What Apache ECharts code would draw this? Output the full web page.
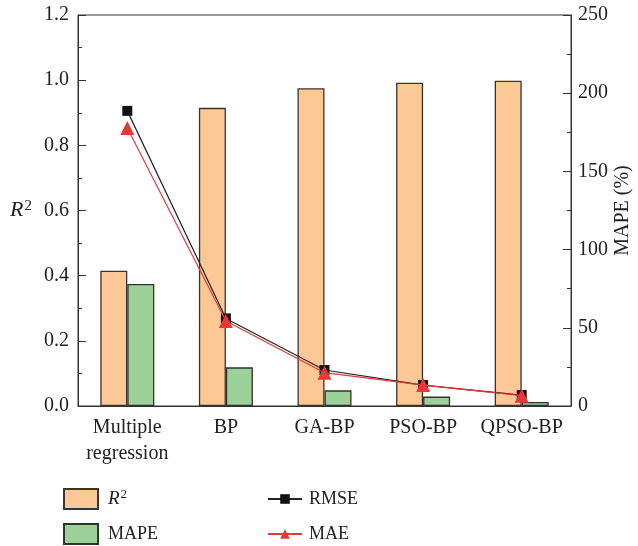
<!DOCTYPE html>
<html>
<head>
<meta charset="utf-8">
<script src="https://cdn.jsdelivr.net/npm/echarts@6/dist/echarts.min.js"></script>
<style>
  html, body { margin: 0; padding: 0; background: #fff; }
  #main { width: 638px; height: 546px; }
</style>
</head>
<body>
<div id="main"></div>
<script>
const categories = ['Multiple\nregression', 'BP', 'GA-BP', 'PSO-BP', 'QPSO-BP'];
const r2Values = [0.415, 0.915, 0.975, 0.992, 0.998];
const mapeValues = [78, 24.7, 10, 6, 2.6];
const rmseValues = [188.7, 56, 23, 13.4, 7];
const maeValues = [177.7, 54.3, 21.3, 13.4, 6.6];
const leftTicks = [0, 1.2, 0.2];
const rightTicks = [0, 250, 50];

const font = 'Liberation Serif';
const axisColor = '#333';

const chart = echarts.init(document.getElementById('main'), null, { renderer: 'canvas' });

function legendText(pad) {
  return {
    fontFamily: font,
    fontSize: 18,
    color: '#222',
    padding: [0, 0, 0, pad],
    rich: {
      i: { fontFamily: font, fontSize: 19, fontStyle: 'italic', color: '#222' },
      s: { fontFamily: font, fontSize: 13, color: '#222', verticalAlign: 'top', padding: [0, 0, 8, 1] }
    }
  };
}

function makeLegend(name, left, top, isBar) {
  return {
    left: left,
    top: top,
    itemWidth: 34,
    itemHeight: isBar ? 20 : 12,
    itemGap: 10,
    data: [isBar ? { name: name, icon: 'rect' } : name],
    formatter: function (n) { return n === 'R2' ? '{i|R}{s|2}' : n; },
    textStyle: legendText(isBar ? 5 : 2)
  };
}

const option = {
  backgroundColor: '#fff',
  textStyle: { fontFamily: font },
  animation: false,
  grid: {
    left: 78,
    right: 67,
    top: 15,
    bottom: 140,
    outerBoundsMode: 'none',
    show: true,
    borderColor: axisColor,
    borderWidth: 1
  },
  legend: [
    makeLegend('R2', 58, 483, true),
    makeLegend('MAPE', 58, 518, true),
    makeLegend('RMSE', 262, 485, false),
    makeLegend('MAE', 262, 520, false)
  ],
  xAxis: {
    type: 'category',
    data: categories,
    axisLine: { lineStyle: { color: axisColor } },
    axisTick: { show: false },
    axisLabel: {
      interval: 0,
      hideOverlap: false,
      fontFamily: font,
      fontSize: 20,
      color: '#222',
      margin: 9,
      lineHeight: 26
    }
  },
  yAxis: [{
    type: 'value',
    min: leftTicks[0],
    max: leftTicks[1],
    interval: leftTicks[2],
    name: '{i|R}{s|2}',
    nameLocation: 'middle',
    nameRotate: 0,
    nameGap: 46,
    nameMoveOverlap: false,
    nameTextStyle: {
      rich: {
        i: { fontFamily: font, fontSize: 22, fontStyle: 'italic', color: '#222' },
        s: { fontFamily: font, fontSize: 15, color: '#222', verticalAlign: 'top', padding: [0, 0, 9, 1] }
      }
    },
    axisLine: { show: true, lineStyle: { color: axisColor } },
    axisTick: { show: true, inside: true, length: 8, lineStyle: { color: axisColor } },
    minorTick: { show: true, splitNumber: 2, length: 4, lineStyle: { color: axisColor } },
    splitLine: { show: false },
    axisLabel: {
      fontFamily: font,
      fontSize: 20,
      color: '#222',
      margin: 9,
      formatter: function (v) { return v.toFixed(1); }
    }
  }, {
    type: 'value',
    position: 'right',
    min: rightTicks[0],
    max: rightTicks[1],
    interval: rightTicks[2],
    name: 'MAPE (%)',
    nameLocation: 'middle',
    nameRotate: 90,
    nameGap: 42,
    nameMoveOverlap: false,
    nameTextStyle: { fontFamily: font, fontSize: 20, color: '#222' },
    axisLine: { show: true, lineStyle: { color: axisColor } },
    axisTick: { show: true, inside: true, length: 8, lineStyle: { color: axisColor } },
    minorTick: { show: true, splitNumber: 2, length: 4, lineStyle: { color: axisColor } },
    splitLine: { show: false },
    axisLabel: {
      fontFamily: font,
      fontSize: 20,
      color: '#222',
      margin: 7
    }
  }],
  series: [{
    name: 'R2',
    type: 'bar',
    yAxisIndex: 0,
    data: r2Values,
    barWidth: 27,
    barGap: '0%',
    itemStyle: { color: '#FCC896', borderColor: '#3a3330', borderWidth: 1.3 }
  }, {
    name: 'MAPE',
    type: 'bar',
    yAxisIndex: 1,
    data: mapeValues,
    barWidth: 27,
    barGap: '0%',
    itemStyle: { color: '#9DD19A', borderColor: '#2e332e', borderWidth: 1.3 }
  }, {
    name: 'RMSE',
    type: 'line',
    yAxisIndex: 1,
    data: rmseValues,
    symbol: 'rect',
    symbolSize: 10,
    lineStyle: { color: '#222', width: 1.2 },
    itemStyle: { color: '#111' },
    z: 5
  }, {
    name: 'MAE',
    type: 'line',
    yAxisIndex: 1,
    data: maeValues,
    symbol: 'triangle',
    symbolSize: 14,
    lineStyle: { color: '#E8363A', width: 1.2 },
    itemStyle: { color: '#E8363A' },
    z: 6
  }]
};

chart.setOption(option);
</script>
</body>
</html>
